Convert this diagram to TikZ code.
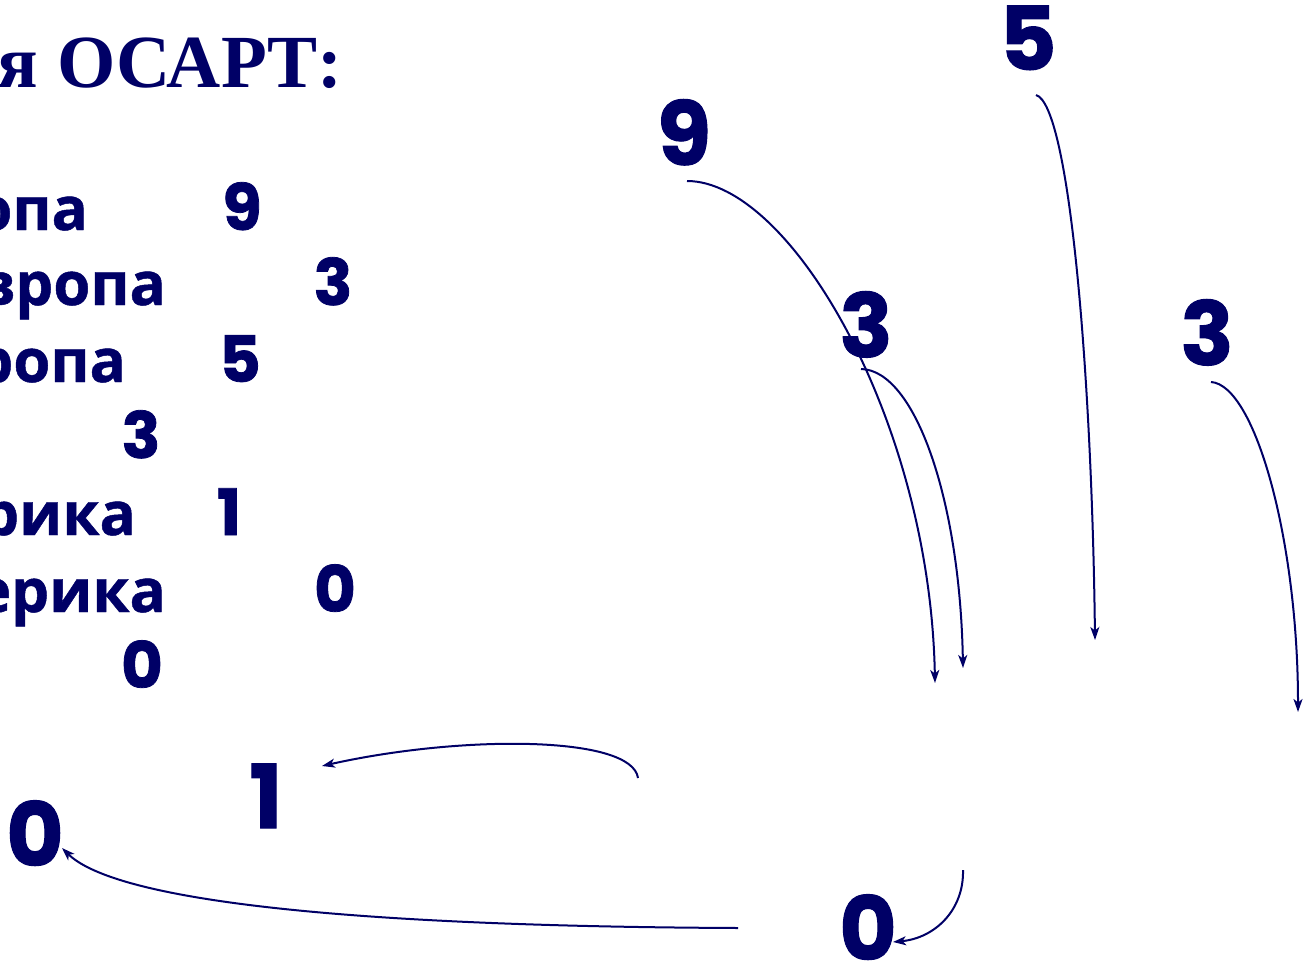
\documentclass[tikz,border=0pt]{standalone}
\usepackage{fontspec}
\usetikzlibrary{arrows.meta}
\newfontfamily\popf{Poppins}[BoldFeatures={FakeBold=1.2}]
\newfontfamily\cyrf{Open Sans}[BoldFeatures={FakeBold=0.8}]
\newfontfamily\serf{Liberation Serif}
\definecolor{navy}{RGB}{0,0,102}
\tikzset{
  big/.style={text=navy, inner sep=0pt, anchor=base, font=\popf\bfseries\fontsize{88}{88}\selectfont},
  dig/.style={text=navy, inner sep=0pt, anchor=base, font=\popf\bfseries\fontsize{64}{64}\selectfont},
  word/.style={text=navy, inner sep=0pt, anchor=base east, font=\cyrf\bfseries\fontsize{60}{60}\selectfont},
  ttl/.style={text=navy, inner sep=0pt, anchor=base east, font=\serf\bfseries\fontsize{75}{75}\selectfont},
  arr/.style={draw=navy, line width=2pt, -{Stealth[length=13pt,width=9pt,inset=3.5pt]}}
}
\begin{document}
\begin{tikzpicture}[x=1pt,y=-1pt]
\useasboundingbox (0,0) rectangle (1305,963);
\clip (0,0) rectangle (1305,963);
% title
\node[ttl] (title) at (343,88) {я ОСАРТ:};
% list
\node[word] (w1) at (88,230) {опа};
\node[word] (w2) at (166,305) {вропа};
\node[word] (w3) at (126,382) {ропа};
\node[word] (w5) at (136,535) {рика};
\node[word] (w6) at (166,612) {ерика};
\node[dig] (d1) at (242,230) {9};
\node[dig] (d2) at (333,305) {3};
\node[dig] (d3) at (240,382) {5};
\node[dig] (d4) at (141,458) {3};
\node[dig] (d5) at (229,535) {1};
\node[dig] (d6) at (335,612) {0};
\node[dig] (d7) at (142,688) {0};
% big numbers
\node[big] (n9) at (684,165) {9};
\node[big] (n5) at (1028,70) {5};
\node[big] (n3a) at (866,357) {3};
\node[big] (n3b) at (1207,365) {3};
\node[big] (n1) at (266,828) {1};
\node[big] (n0a) at (35,866) {0};
\node[big] (n0b) at (868,960) {0};
% connector end points
\coordinate (s9) at (687,181);
\coordinate (e9) at (935,683);
\coordinate (s3a) at (861,369);
\coordinate (e3a) at (963,668);
\coordinate (s5) at (1036,95);
\coordinate (e5) at (1095,640);
\coordinate (s3b) at (1211,382);
\coordinate (e3b) at (1298,712);
\coordinate (s1) at (638,778);
\coordinate (e1) at (322,766);
\coordinate (s0a) at (738,928);
\coordinate (e0a) at (62,848);
\coordinate (s0b) at (963,870);
\coordinate (e0b) at (893,942);
% connectors
\draw[arr] (s9) .. controls (790,181) and (930,420) .. (e9);
\draw[arr] (s3a) .. controls (915,370) and (960,500) .. (e3a);
\draw[arr] (s5) .. controls (1070,105) and (1092,380) .. (e5);
\draw[arr] (s3b) .. controls (1255,385) and (1298,540) .. (e3b);
\draw[arr] (s1) .. controls (632,735) and (460,735) .. (e1);
\draw[arr] (s0a) .. controls (300,926) and (110,895) .. (e0a);
\draw[arr] (s0b) .. controls (964,910) and (935,938) .. (e0b);
\end{tikzpicture}
\end{document}
